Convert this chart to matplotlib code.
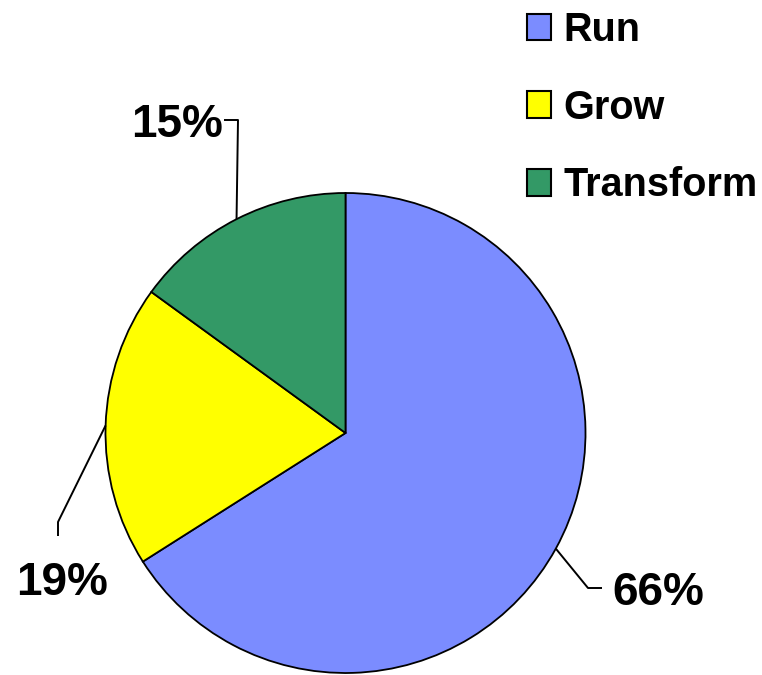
import matplotlib
matplotlib.use("Agg")
import matplotlib.pyplot as plt
import numpy as np

# Portfolio split
categories = ["Run", "Grow", "Transform"]
shares = [66, 19, 15]
colors = ["#7B8CFF", "#FFFF00", "#339966"]

plt.rcParams["font.family"] = ["Liberation Sans", "DejaVu Sans"]
plt.rcParams["font.weight"] = "bold"

W, H = 762, 675
fig = plt.figure(figsize=(W / 100, H / 100), dpi=100)
ax = fig.add_axes([0, 0, 1, 1])

cx, cy, r = 345.5, 242, 240
wedges, _ = ax.pie(
    shares, colors=colors, startangle=90, counterclock=False,
    center=(cx, cy), radius=r, frame=True,
    wedgeprops=dict(edgecolor="black", linewidth=1.3),
)
ax.set_xlim(0, W)
ax.set_ylim(0, H)
ax.axis("off")

# label text anchor, alignment, and elbow points of the leader line
label_layout = {
    "Run": dict(xy=(612, 70), ha="left", elbow=[(602, 87), (588, 87)]),
    "Grow": dict(xy=(62, 80), ha="center", elbow=[(58, 139), (58, 153)]),
    "Transform": dict(xy=(223, 538), ha="right", elbow=[(224, 555), (238, 555)]),
}

for w, name, val in zip(wedges, categories, shares):
    lay = label_layout[name]
    mid = np.deg2rad((w.theta1 + w.theta2) / 2)
    edge = (cx + r * np.cos(mid), cy + r * np.sin(mid))
    pts = lay["elbow"] + [edge]
    ax.plot([p[0] for p in pts], [p[1] for p in pts], color="black", lw=1.4,
            solid_capstyle="butt", zorder=3)
    ax.text(lay["xy"][0], lay["xy"][1], f"{val:.0f}%", ha=lay["ha"],
            va="baseline", fontsize=33, fontweight="bold", color="black")

leg = fig.legend(
    wedges, categories, loc="upper left",
    bbox_to_anchor=(527 / W, 1 - 11 / H), frameon=False,
    prop=dict(weight="bold", size=28.5),
    handlelength=0.61, handleheight=0.66, handletextpad=0.3,
    labelspacing=1.0, borderpad=0, borderaxespad=0,
)
for h in leg.legend_handles:
    h.set_edgecolor("black")
    h.set_linewidth(1.5)

fig.savefig("out.png", dpi=100)
